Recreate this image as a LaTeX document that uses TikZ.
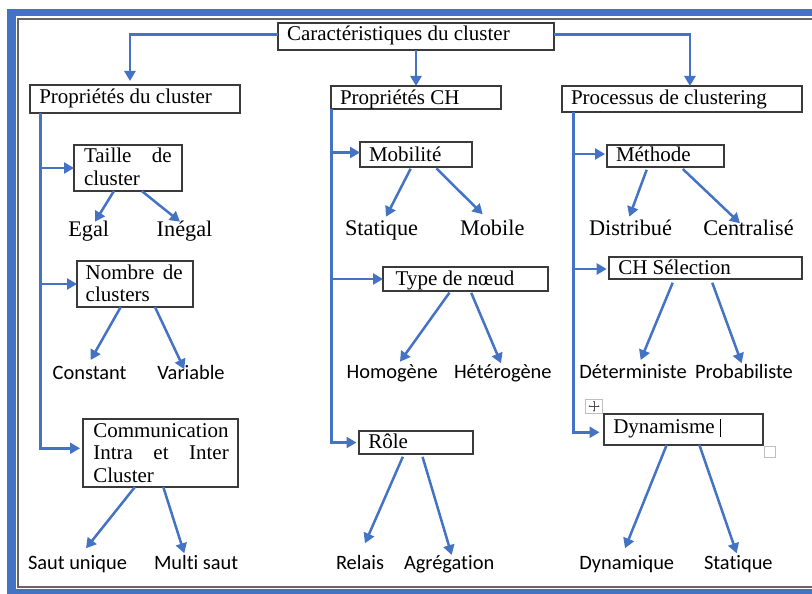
\documentclass[tikz,border=0pt]{standalone}
\usepackage{fontspec}
\setmainfont{Liberation Serif}
\newfontfamily\carl[Ligatures=NoCommon]{Carlito}
\usetikzlibrary{arrows.meta,calc}
\definecolor{obl}{HTML}{4472C4}
\definecolor{bxc}{HTML}{3A3A3A}
\begin{document}
\begin{tikzpicture}[x=1pt,y=-1pt,
  box/.style={draw=bxc,line width=1.2pt,rectangle,inner sep=0pt,outer sep=0pt},
  bt/.style={anchor=base west,inner sep=0pt,outer sep=0pt,font=\fontsize{21}{22.4}\selectfont},
  lt/.style={anchor=base west,inner sep=0pt,outer sep=0pt,font=\fontsize{22.3}{24}\selectfont},
  st/.style={anchor=base west,inner sep=0pt,outer sep=0pt,font=\carl\fontsize{20.4}{24}\selectfont},
  conn/.style={draw=obl,line width=2.5pt,-{Triangle[length=10pt,width=11pt]}},
  ]
\useasboundingbox (0,0) rectangle (812,594);
\fill[white] (0,0) rectangle (812,594);
% frame
\fill[obl] (7,9) rectangle (812,16);
\fill[obl] (7,9) rectangle (16,594);
\fill[obl] (7,589.3) rectangle (812,594);
\draw[black!60,line width=1.2pt] (812,19) -- (18,19) -- (18,587) -- (812,587);

% boxes
\node[box,minimum width=276pt,minimum height=27pt] (car) at (416,36.5) {};
\node[box,minimum width=210pt,minimum height=28pt] (pc) at (135,99) {};
\node[box,minimum width=170pt,minimum height=23pt] (pch) at (416,97.5) {};
\node[box,minimum width=240pt,minimum height=26pt] (proc) at (682,99) {};
\node[box,minimum width=108pt,minimum height=46pt] (taille) at (128,168) {};
\node[box,minimum width=116pt,minimum height=46pt] (nombre) at (135,284) {};
\node[box,minimum width=155pt,minimum height=68pt] (comm) at (160.5,453) {};
\node[box,minimum width=112pt,minimum height=25pt] (mob) at (416,154.5) {};
\node[box,minimum width=165pt,minimum height=24pt] (type) at (465.5,279) {};
\node[box,minimum width=114pt,minimum height=23pt] (role) at (416,442.5) {};
\node[box,minimum width=117pt,minimum height=22pt] (meth) at (665.5,156) {};
\node[box,minimum width=193pt,minimum height=22pt] (chs) at (705.5,268) {};
\node[box,minimum width=159pt,minimum height=31pt] (dyn) at (683.5,429.5) {};

% Word handles
\draw[black!25,line width=0.8pt] (585.7,399) rectangle (602.3,413.3);
\draw[black!70,line width=0.5pt,{Stealth[length=1.6pt,width=2pt]}-{Stealth[length=1.6pt,width=2pt]}] (588.5,406.2) -- (599.5,406.2);
\draw[black!70,line width=0.5pt,{Stealth[length=1.6pt,width=2pt]}-{Stealth[length=1.6pt,width=2pt]}] (594,400.7) -- (594,411.7);
\draw[black!25,line width=0.8pt] (764,446.7) rectangle (775,457.3);
\draw[black,line width=0.9pt] (720,419.3) -- (720,436.7);

% box texts
\node[bt] (tcar) at (287,40.7) {Caractéristiques du cluster};
\node[bt] (tpc) at (39.3,103.3) {Propriétés du cluster};
\node[bt] (tpch) at (340,104.3) {Propriétés CH};
\node[bt] (tproc) at (571,104) {Processus de clustering};
\node[bt] (ttaille) at (84,162.7) {\parbox[t]{87.7pt}{Taille\hfill de\\cluster}};
\node[bt] (tnombre) at (85.7,279.3) {\parbox[t]{97pt}{Nombre\hfill de\\clusters}};
\node[bt] (tcomm) at (93.3,437.3) {\parbox[t]{135.5pt}{Communication\\Intra\hfill et\hfill Inter\\Cluster}};
\node[bt] (tmob) at (369,161) {Mobilité};
\node[bt] (ttype) at (395.7,285) {Type de nœud};
\node[bt] (trole) at (368.3,448.3) {Rôle};
\node[bt] (tmeth) at (616,161.7) {Méthode};
\node[bt] (tchs) at (618.3,274.3) {CH Sélection};
\node[bt] (tdyn) at (613.3,433.3) {Dynamisme};

% leaf labels
\node[lt] (egal) at (68.3,236) {Egal};
\node[lt] (inegal) at (156.7,236) {Inégal};
\node[lt] (stat1) at (345,235) {Statique};
\node[lt] (mobile) at (460,235) {Mobile};
\node[lt] (distr) at (589,235) {Distribué};
\node[lt] (centr) at (703.3,235) {Centralisé};
\node[st] (const) at (52.7,379) {Constant};
\node[st] (var) at (157.3,379) {Variable};
\node[st] (saut) at (28,569.3) {Saut unique};
\node[st] (multi) at (154,569) {Multi saut};
\node[st] (homo) at (346.7,378.3) {Homogène};
\node[st] (hetero) at (454,378.3) {Hétérogène};
\node[st] (relais) at (336,569.3) {Relais};
\node[st] (agreg) at (404,569.3) {Agrégation};
\node[st] (deter) at (579.3,378.3) {Déterministe};
\node[st] (proba) at (695,378.3) {Probabiliste};
\node[st] (dynq) at (579.3,569.3) {Dynamique};
\node[st] (stat2) at (704,569.3) {Statique};

% top connectors
\draw[conn,shorten >=4pt] ($(car.west)+(0,-2.2)$) -| ($(pc.north west)!0.476!(pc.north east)$);
\draw[conn] (car.south) -- (pch.north);
\draw[conn] ($(car.east)+(0,-2.2)$) -| ($(proc.north west)!0.533!(proc.north east)$);

% left trunk
\coordinate (tl) at ($(pc.south west)+(10.7,0)$);
\draw[conn,shorten >=3pt] (tl) |- ($(comm.west)+(0,-4.7)$);
\draw[conn] (tl |- taille.west) -- (taille.west);
\draw[conn] (tl |- nombre.west) -- (nombre.west);

% middle trunk
\coordinate (tm) at ($(pch.south west)+(0.7,0)$);
\draw[conn,shorten >=2.5pt] (tm) |- (role.west);
\draw[conn] ($(tm |- mob.west)+(0,-2)$) -- ($(mob.west)+(0,-2)$);
\draw[conn] (tm |- type.west) -- (type.west);

% right trunk
\coordinate (tr) at ($(proc.south west)+(11.3,0)$);
\draw[conn,shorten >=4.5pt] (tr) |- ($(dyn.west)+(0,2.8)$);
\draw[conn,shorten >=2pt] ($(tr |- meth.west)+(0,-2)$) -- ($(meth.west)+(0,-2)$);
\draw[conn,shorten >=2.3pt] ($(tr |- chs.west)+(0,1)$) -- ($(chs.west)+(0,1)$);

% leaf arrow tips
\coordinate (egalT) at (95,221.7);
\coordinate (inegalT) at (180,221.7);
\coordinate (constT) at (90.7,360);
\coordinate (varT) at (184.3,369.3);
\coordinate (sautT) at (86,548.3);
\coordinate (multiT) at (184.3,553.3);
\coordinate (stat1T) at (386,216.7);
\coordinate (mobileT) at (482.7,214.3);
\coordinate (homoT) at (400,361.7);
\coordinate (heteroT) at (501,363.3);
\coordinate (relaisT) at (365,543.3);
\coordinate (agregT) at (451.7,555);
\coordinate (distrT) at (629.3,216.7);
\coordinate (centrT) at (740,223.3);
\coordinate (deterT) at (640.7,360);
\coordinate (probaT) at (741.7,363.3);
\coordinate (dynqT) at (625,548.3);
\coordinate (stat2T) at (736.7,553.3);

% leaf arrows
\draw[conn] ($(taille.south west)!0.37!(taille.south east)$) -- (egalT);
\draw[conn] ($(taille.south west)!0.627!(taille.south east)$) -- (inegalT);
\draw[conn] ($(nombre.south west)!0.377!(nombre.south east)$) -- (constT);
\draw[conn] ($(nombre.south west)!0.672!(nombre.south east)$) -- (varT);
\draw[conn] ($(comm.south west)!0.335!(comm.south east)$) -- (sautT);
\draw[conn] ($(comm.south west)!0.518!(comm.south east)$) -- (multiT);
\draw[conn,shorten <=2pt] ($(mob.south west)!0.46!(mob.south east)$) -- (stat1T);
\draw[conn,shorten <=2pt] ($(mob.south west)!0.67!(mob.south east)$) -- (mobileT);
\draw[conn,shorten <=2pt] ($(type.south west)!0.41!(type.south east)$) -- (homoT);
\draw[conn,shorten <=2pt] ($(type.south west)!0.53!(type.south east)$) -- (heteroT);
\draw[conn,shorten <=3pt] ($(role.south west)!0.395!(role.south east)$) -- (relaisT);
\draw[conn,shorten <=3pt] ($(role.south west)!0.55!(role.south east)$) -- (agregT);
\draw[conn,shorten <=3pt] ($(meth.south west)!0.348!(meth.south east)$) -- (distrT);
\draw[conn,shorten <=3pt] ($(meth.south west)!0.63!(meth.south east)$) -- (centrT);
\draw[conn,shorten <=4pt] ($(chs.south west)!0.338!(chs.south east)$) -- (deterT);
\draw[conn,shorten <=4pt] ($(chs.south west)!0.528!(chs.south east)$) -- (probaT);
\draw[conn] ($(dyn.south west)!0.394!(dyn.south east)$) -- (dynqT);
\draw[conn] ($(dyn.south west)!0.6!(dyn.south east)$) -- (stat2T);
\end{tikzpicture}
\end{document}
